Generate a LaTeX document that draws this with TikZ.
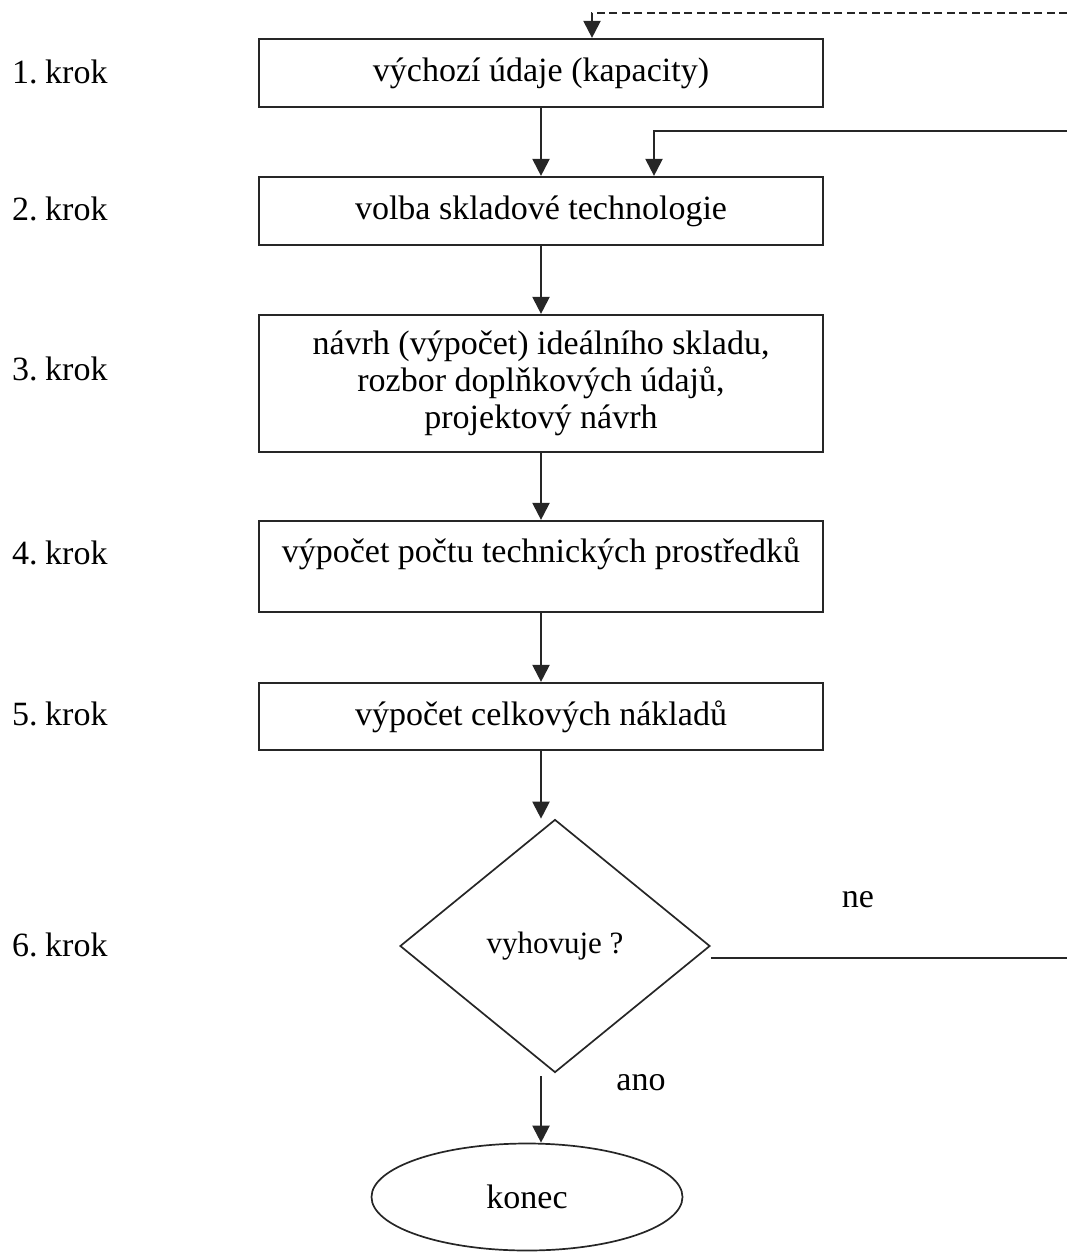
\documentclass[tikz,border=0pt]{standalone}
\usepackage{fontspec}
\setmainfont{Liberation Serif}
\usetikzlibrary{shapes.geometric,arrows.meta,calc}
\begin{document}
\begin{tikzpicture}[x=1pt,y=-1pt,
  every node/.style={font=\fontsize{34}{37}\selectfont, text=black},
  stepbox/.style={draw=black!85, line width=2.2pt, rectangle, minimum width=564pt, inner sep=0pt, align=center},
  steplabel/.style={anchor=west, inner sep=0pt},
  conn/.style={draw=black!85, line width=2.2pt},
  arr/.style={conn, -{Triangle[length=17pt,width=17pt]}},
  freetext/.style={inner sep=0pt}
]
\useasboundingbox (0,0) rectangle (1067,1255);

% step labels
\node[steplabel] (l1) at (12,72) {1.\hspace{0.22em}krok};
\node[steplabel] (l2) at (12,209) {2.\hspace{0.22em}krok};
\node[steplabel] (l3) at (12,369) {3.\hspace{0.22em}krok};
\node[steplabel] (l4) at (12,553) {4.\hspace{0.22em}krok};
\node[steplabel] (l5) at (12,714) {5.\hspace{0.22em}krok};
\node[steplabel] (l6) at (12,945) {6.\hspace{0.22em}krok};

% boxes
\node[stepbox, minimum height=68pt] (b1) at (541,73) {výchozí údaje (kapacity)};
\node[stepbox, minimum height=68pt] (b2) at (541,211) {volba skladové technologie};
\node[stepbox, minimum height=137pt] (b3) at (541,383.5) {návrh (výpočet) ideálního skladu,\\rozbor doplňkových údajů,\\projektový návrh};
\node[stepbox, minimum height=91pt, text height=24pt, text depth=33pt] (b4) at (541,566.5) {výpočet počtu technických prostředků};
\node[stepbox, minimum height=67pt] (b5) at (541,716.5) {výpočet celkových nákladů};

% decision
\node[draw=black!85, line width=1.7pt, diamond, aspect=1.22, minimum width=310pt, minimum height=253pt, inner sep=0pt,
      font=\fontsize{31}{34}\selectfont] (d) at (555,946) {vyhovuje ?};

% end
\node[draw=black!85, line width=1.7pt, ellipse, minimum width=311pt, minimum height=107pt, inner sep=0pt] (e) at (527,1197) {konec};

% branch labels
\node[freetext] (ne) at (858,900) {ne};
\node[freetext] (ano) at (641,1083) {ano};

% right-edge coordinates
\coordinate (r0) at (1067,13);
\coordinate (r1) at (1067,131);
\coordinate (r2) at (1067,958);

% main flow
\draw[arr] (b1.south) -- (b2.north);
\draw[arr] (b2.south) -- (b3.north);
\draw[arr] (b3.south) -- (b4.north);
\draw[arr] (b4.south) -- (b5.north);
\draw[arr] (b5.south) -- (b5.south |- d.north);
\draw[arr] ($(b5.south |- d.south)+(0,3)$) -- (b5.south |- e.north);

% loop backs
\draw[conn] ($(d.east)+(0,12)$) -- (r2);
\draw[arr] (r1) -- (654,131) -- (654,0 |- b2.north);
\draw[arr, dash pattern=on 8pt off 4.5pt] (r0) -- (592,13) -- (592,0 |- b1.north);
\end{tikzpicture}
\end{document}
